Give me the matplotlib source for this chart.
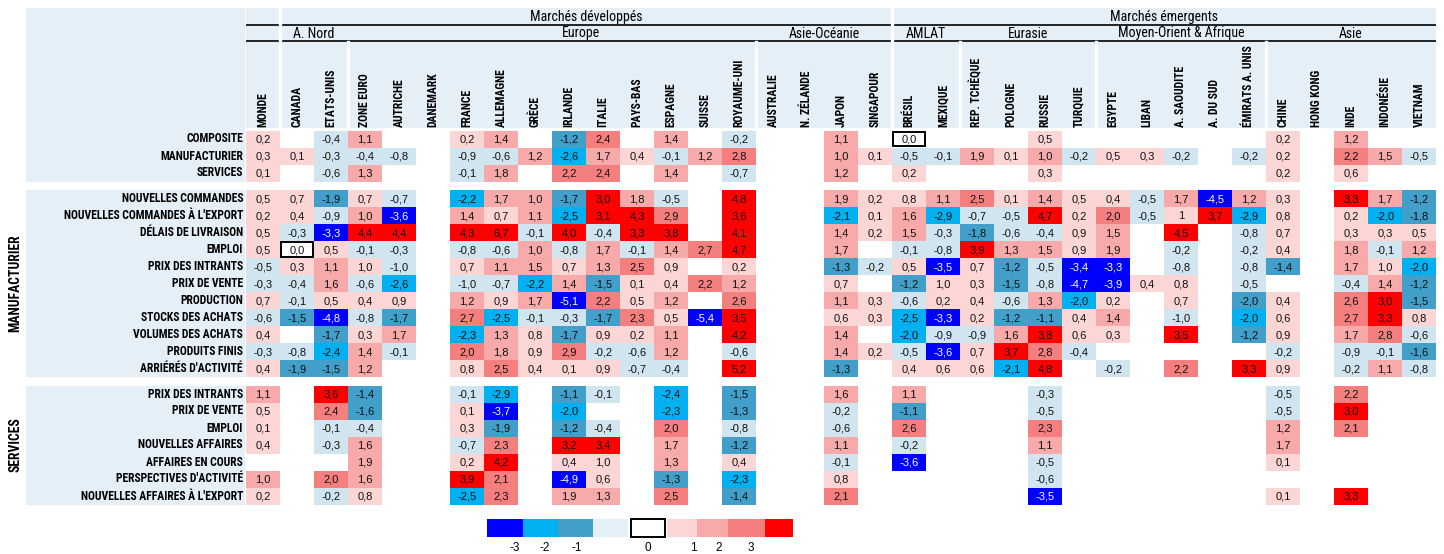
import numpy as np
import matplotlib
matplotlib.use("Agg")
import matplotlib.pyplot as plt
from matplotlib.patches import Rectangle
from matplotlib import font_manager as fm

_ = np.nan

# ---------------- data ----------------
countries = ["MONDE", "CANADA", "ETATS-UNIS", "ZONE EURO", "AUTRICHE", "DANEMARK",
             "FRANCE", "ALLEMAGNE", "GRÈCE", "IRLANDE", "ITALIE", "PAYS-BAS",
             "ESPAGNE", "SUISSE", "ROYAUME-UNI", "AUSTRALIE", "N. ZÉLANDE", "JAPON",
             "SINGAPOUR", "BRÉSIL", "MEXIQUE", "REP. TCHÈQUE", "POLOGNE", "RUSSIE",
             "TURQUIE", "EGYPTE", "LIBAN", "A. SAOUDITE", "A. DU SUD",
             "ÉMIRATS A. UNIS", "CHINE", "HONG KONG", "INDE", "INDONÉSIE", "VIETNAM"]

top_groups = [("Marchés développés", 1, 18), ("Marchés émergents", 19, 34)]
sub_groups = [("A. Nord", 1, 2), ("Europe", 3, 14), ("Asie-Océanie", 15, 18),
              ("AMLAT", 19, 20), ("Eurasie", 21, 24),
              ("Moyen-Orient & Afrique", 25, 29), ("Asie", 30, 34)]

summary_rows = ["COMPOSITE", "MANUFACTURIER", "SERVICES"]
summary_vals = [
    [0.2, _, -0.4, 1.1, _, _, 0.2, 1.4, _, -1.2, 2.4, _, 1.4, _, -0.2, _, _, 1.1, _, 0.0, _, _, _, 0.5, _, _, _, _, _, _, 0.2, _, 1.2, _, _],
    [0.3, 0.1, -0.3, -0.4, -0.8, _, -0.9, -0.6, 1.2, -2.6, 1.7, 0.4, -0.1, 1.2, 2.8, _, _, 1.0, 0.1, -0.5, -0.1, 1.9, 0.1, 1.0, -0.2, 0.5, 0.3, -0.2, _, -0.2, 0.2, _, 2.2, 1.5, -0.5],
    [0.1, _, -0.6, 1.3, _, _, -0.1, 1.8, _, 2.2, 2.4, _, 1.4, _, -0.7, _, _, 1.2, _, 0.2, _, _, _, 0.3, _, _, _, _, _, _, 0.2, _, 0.6, _, _],
]

manuf_rows = ["NOUVELLES COMMANDES", "NOUVELLES COMMANDES À L'EXPORT", "DÉLAIS DE LIVRAISON",
              "EMPLOI", "PRIX DES INTRANTS", "PRIX DE VENTE", "PRODUCTION",
              "STOCKS DES ACHATS", "VOLUMES DES ACHATS", "PRODUITS FINIS",
              "ARRIÉRÉS D'ACTIVITÉ"]
manuf_vals = [
    [0.5, 0.7, -1.9, 0.7, -0.7, _, -2.2, 1.7, 1.0, -1.7, 3.0, 1.8, -0.5, _, 4.8, _, _, 1.9, 0.2, 0.8, 1.1, 2.5, 0.1, 1.4, 0.5, 0.4, -0.5, 1.7, -4.5, 1.2, 0.3, _, 3.3, 1.7, -1.2],
    [0.2, 0.4, -0.9, 1.0, -3.6, _, 1.4, 0.7, 1.1, -2.5, 3.1, 4.3, 2.9, _, 3.6, _, _, -2.1, 0.1, 1.6, -2.9, -0.7, -0.5, 4.7, 0.2, 2.0, -0.5, 0.97, 3.7, -2.9, 0.8, _, 0.2, -2.0, -1.8],
    [0.5, -0.3, -3.3, 4.4, 4.4, _, 4.3, 6.7, -0.1, 4.0, -0.4, 3.3, 3.8, _, 4.1, _, _, 1.4, 0.2, 1.5, -0.3, -1.8, -0.6, -0.4, 0.9, 1.5, _, 4.5, _, -0.8, 0.7, _, 0.3, 0.3, 0.5],
    [0.5, 0.0, 0.5, -0.1, -0.3, _, -0.8, -0.6, 1.0, -0.8, 1.7, -0.1, 1.4, 2.7, 4.7, _, _, 1.7, _, -0.1, -0.8, 3.9, 1.3, 1.5, 0.9, 1.9, _, -0.2, _, -0.2, 0.4, _, 1.8, -0.1, 1.2],
    [-0.5, 0.3, 1.1, 0.97, -1.0, _, 0.7, 1.1, 1.5, 0.7, 1.3, 2.5, 0.9, _, 0.2, _, _, -1.3, -0.2, 0.5, -3.5, 0.7, -1.2, -0.5, -3.4, -3.3, _, -0.8, _, -0.8, -1.4, _, 1.7, 0.97, -2.0],
    [-0.3, -0.4, 1.6, -0.6, -2.6, _, -1.0, -0.7, -2.2, 1.4, -1.5, 0.1, 0.4, 2.2, 1.2, _, _, 0.7, _, -1.2, 0.97, 0.3, -1.5, -0.8, -4.7, -3.9, 0.4, 0.8, _, -0.5, _, _, -0.4, 1.4, -1.2],
    [0.7, -0.1, 0.5, 0.4, 0.9, _, 1.2, 0.9, 1.7, -5.1, 2.2, 0.5, 1.2, _, 2.6, _, _, 1.1, 0.3, -0.6, 0.2, 0.4, -0.6, 1.3, -2.0, 0.2, _, 0.7, _, -1.96, 0.4, _, 2.6, 3.0, -1.5],
    [-0.6, -1.5, -4.8, -0.8, -1.7, _, 2.7, -2.5, -0.1, -0.3, -1.7, 2.3, 0.5, -5.4, 3.5, _, _, 0.6, 0.3, -2.5, -3.3, 0.2, -1.2, -1.1, 0.4, 1.4, _, -1.0, _, -2.0, 0.6, _, 2.7, 3.3, 0.8],
    [0.4, _, -1.7, 0.3, 1.7, _, -2.3, 1.3, 0.8, -1.7, 0.9, 0.2, 1.1, _, 4.2, _, _, 1.4, _, -2.0, -0.9, -0.9, 1.6, 3.8, 0.6, 0.3, _, 3.5, _, -1.2, 0.9, _, 1.7, 2.8, -0.6],
    [-0.3, -0.8, -2.4, 1.4, -0.1, _, 2.0, 1.8, 0.9, 2.9, -0.2, -0.6, 1.2, _, -0.6, _, _, 1.4, 0.2, -0.5, -3.6, 0.7, 3.7, 2.8, -0.4, _, _, _, _, _, -0.2, _, -0.9, -0.1, -1.6],
    [0.4, -1.9, -1.5, 1.2, _, _, 0.8, 2.5, 0.4, 0.1, 0.9, -0.7, -0.4, _, 5.2, _, _, -1.3, _, 0.4, 0.6, 0.6, -2.1, 4.8, _, -0.2, _, 2.2, _, 3.3, 0.9, _, -0.2, 1.1, -0.8],
]

serv_rows = ["PRIX DES INTRANTS", "PRIX DE VENTE", "EMPLOI", "NOUVELLES AFFAIRES",
             "AFFAIRES EN COURS", "PERSPECTIVES D'ACTIVITÉ", "NOUVELLES AFFAIRES À L'EXPORT"]
serv_vals = [
    [1.1, _, 3.6, -1.4, _, _, -0.1, -2.9, _, -1.1, -0.1, _, -2.4, _, -1.5, _, _, 1.6, _, 1.1, _, _, _, -0.3, _, _, _, _, _, _, -0.5, _, 2.2, _, _],
    [0.5, _, 2.4, -1.6, _, _, 0.1, -3.7, _, -2.0, _, _, -2.3, _, -1.3, _, _, -0.2, _, -1.1, _, _, _, -0.5, _, _, _, _, _, _, -0.5, _, 3.0, _, _],
    [0.1, _, -0.1, -0.4, _, _, 0.3, -1.9, _, -1.2, -0.4, _, 2.0, _, -0.8, _, _, -0.6, _, 2.6, _, _, _, 2.3, _, _, _, _, _, _, 1.2, _, 2.1, _, _],
    [0.4, _, -0.3, 1.6, _, _, -0.7, 2.3, _, 3.2, 3.4, _, 1.7, _, -1.2, _, _, 1.1, _, -0.2, _, _, _, 1.1, _, _, _, _, _, _, 1.7, _, _, _, _],
    [_, _, _, 1.9, _, _, 0.2, 4.2, _, 0.4, 0.97, _, 1.3, _, 0.4, _, _, -0.1, _, -3.6, _, _, _, -0.5, _, _, _, _, _, _, 0.1, _, _, _, _],
    [1.0, _, 2.0, 1.6, _, _, 3.9, 2.1, _, -4.9, 0.6, _, -1.3, _, -2.3, _, _, 0.8, _, _, _, _, _, -0.6, _, _, _, _, _, _, _, _, _, _, _],
    [0.2, _, -0.2, 0.8, _, _, -2.5, 2.3, _, 1.9, 1.3, _, 2.5, _, -1.4, _, _, 2.1, _, _, _, _, _, -3.5, _, _, _, _, _, _, 0.1, _, 3.3, _, _],
]
label_overrides = {("manuf", 1, 27): "1"}

legend_labels = ["-3", "-2", "-1", "0", "1", "2", "3"]

# ---------------- style ----------------
BLUE, CYAN, STEEL, LBLUE = "#0000ff", "#00b0f0", "#429fca", "#d0e5ef"
LPINK, PINK, SALMON, RED = "#fcd5d5", "#f8a9a9", "#f57f7f", "#ff0000"
PANEL = "#e4eff7"
REG = ["Liberation Sans", "DejaVu Sans"]


def first_font(cands):
    for c in cands:
        try:
            fm.findfont(fm.FontProperties(family=c), fallback_to_default=False)
            return c
        except Exception:
            continue
    return None


_narrow = first_font(["Liberation Sans Narrow", "Arial Narrow", "Roboto Condensed",
                      "Open Sans Condensed", "DejaVu Sans Condensed"])
if _narrow is not None:
    NARROW = [_narrow, "Liberation Sans", "DejaVu Sans"]
    NS = 1.0
else:
    NARROW = REG
    NS = 0.85


def cell_color(v):
    if v <= -3: return BLUE
    if v <= -2: return CYAN
    if v < -1: return STEEL
    if v < 0: return LBLUE
    if v == 0: return "white"
    if v < 1: return LPINK
    if v < 2: return PINK
    if v < 3: return SALMON
    return RED


W, H = 1444, 554
X0, DX, Y0, DY = 263.0, 34.0, 139.0, 17.0
fig = plt.figure(figsize=(W / 100, H / 100), dpi=100)
ax = fig.add_axes([0, 0, 1, 1])
ax.set_xlim((0 - X0) / DX, (W - X0) / DX)
ax.set_ylim((H - Y0) / DY, (0 - Y0) / DY)
ax.axis("off")


def px(x):
    return (x - X0) / DX


def py(y):
    return (y - Y0) / DY


ncol = len(countries)
sum_pos = [0, 1, 2]
man_pos = [3.5 + k for k in range(len(manuf_rows))]
ser_pos = [15.0 + k for k in range(len(serv_rows))]

# left panels
for y0, y1 in [(py(8), 2.5), (man_pos[0] - 0.5, man_pos[-1] + 0.5),
               (ser_pos[0] - 0.5, ser_pos[-1] + 0.5)]:
    ax.add_patch(Rectangle((px(26), y0), px(245) - px(26), y1 - y0,
                           facecolor=PANEL, edgecolor="none", zorder=0))
# header panel
ax.add_patch(Rectangle((-0.5, py(8)), ncol, py(128) - py(8),
                       facecolor=PANEL, edgecolor="none", zorder=0))
for yy in (py(25), py(41)):
    ax.plot([-0.5, ncol - 0.5], [yy, yy], color="black", lw=1.2, zorder=2,
            solid_capstyle="butt")
for xs in (0.5, 18.5):
    ax.plot([xs, xs], [py(8), py(128)], color="white", lw=2.4, zorder=3)
for xs in (2.5, 14.5, 20.5, 24.5, 29.5):
    ax.plot([xs, xs], [py(42), py(128)], color="white", lw=2.4, zorder=3)

for name, a, b in top_groups:
    ax.text((a + b) / 2, py(17), name, ha="center", va="center",
            fontsize=10 * NS, family=NARROW, zorder=4)
sub_x = {"Europe": 9.35}
for name, a, b in sub_groups:
    ax.text(sub_x.get(name, (a + b) / 2), py(33.5), name, ha="center",
            va="center", fontsize=10 * NS, family=NARROW, zorder=4)
for j, c in enumerate(countries):
    ax.text(j, py(127), c, rotation=90, ha="center", va="bottom",
            fontsize=8.4 * NS, fontweight="bold", family=NARROW, zorder=4)


def draw_block(key, names, vals, positions):
    for i, (nm, row, r) in enumerate(zip(names, vals, positions)):
        ax.text(px(243), r, nm, ha="right", va="center", fontsize=8.4 * NS,
                fontweight="bold", family=NARROW, zorder=4)
        for j, v in enumerate(row):
            if np.isnan(v):
                continue
            if v == 0:
                ax.add_patch(Rectangle((j - 0.47, r - 0.44), 0.94, 0.88,
                                       facecolor="white", edgecolor="black",
                                       lw=1.4, zorder=1))
            else:
                ax.add_patch(Rectangle((j - 0.5, r - 0.5), 1, 1,
                                       facecolor=cell_color(v),
                                       edgecolor="none", zorder=1))
            lab = label_overrides.get((key, i, j),
                                      f"{v:.1f}".replace(".", ","))
            ax.text(j, r + 0.03, lab, ha="center", va="center", fontsize=8,
                    family=REG, color="white" if v <= -3 else "#111111",
                    zorder=4)


draw_block("sum", summary_rows, summary_vals, sum_pos)
draw_block("manuf", manuf_rows, manuf_vals, man_pos)
draw_block("serv", serv_rows, serv_vals, ser_pos)

ax.text(px(15), np.mean(man_pos), "MANUFACTURIER", rotation=90, ha="center",
        va="center", fontsize=9.8 * NS, fontweight="bold", family=NARROW)
ax.text(px(15), np.mean(ser_pos), "SERVICES", rotation=90, ha="center",
        va="center", fontsize=9.8 * NS, fontweight="bold", family=NARROW)

# legend
leg_cols = [BLUE, CYAN, STEEL, PANEL, "white", LPINK, PINK, SALMON, RED]
leg_edges = [(487, 523), (523, 558), (558, 593), (593, 628), (631, 665),
             (667, 697), (697, 728), (728, 765), (765, 793)]
for col, (a, b) in zip(leg_cols, leg_edges):
    ec = "black" if col == "white" else "none"
    ax.add_patch(Rectangle((px(a), py(519)), px(b) - px(a), py(537) - py(519),
                           facecolor=col, edgecolor=ec, lw=1.4, zorder=1))
leg_x = [515, 545, 577, 648, 693, 719, 751]
for lab, x in zip(legend_labels, leg_x):
    ax.text(px(x), py(548), lab, ha="center", va="center", fontsize=8.5,
            family=REG)

fig.savefig("out.png", dpi=100)
